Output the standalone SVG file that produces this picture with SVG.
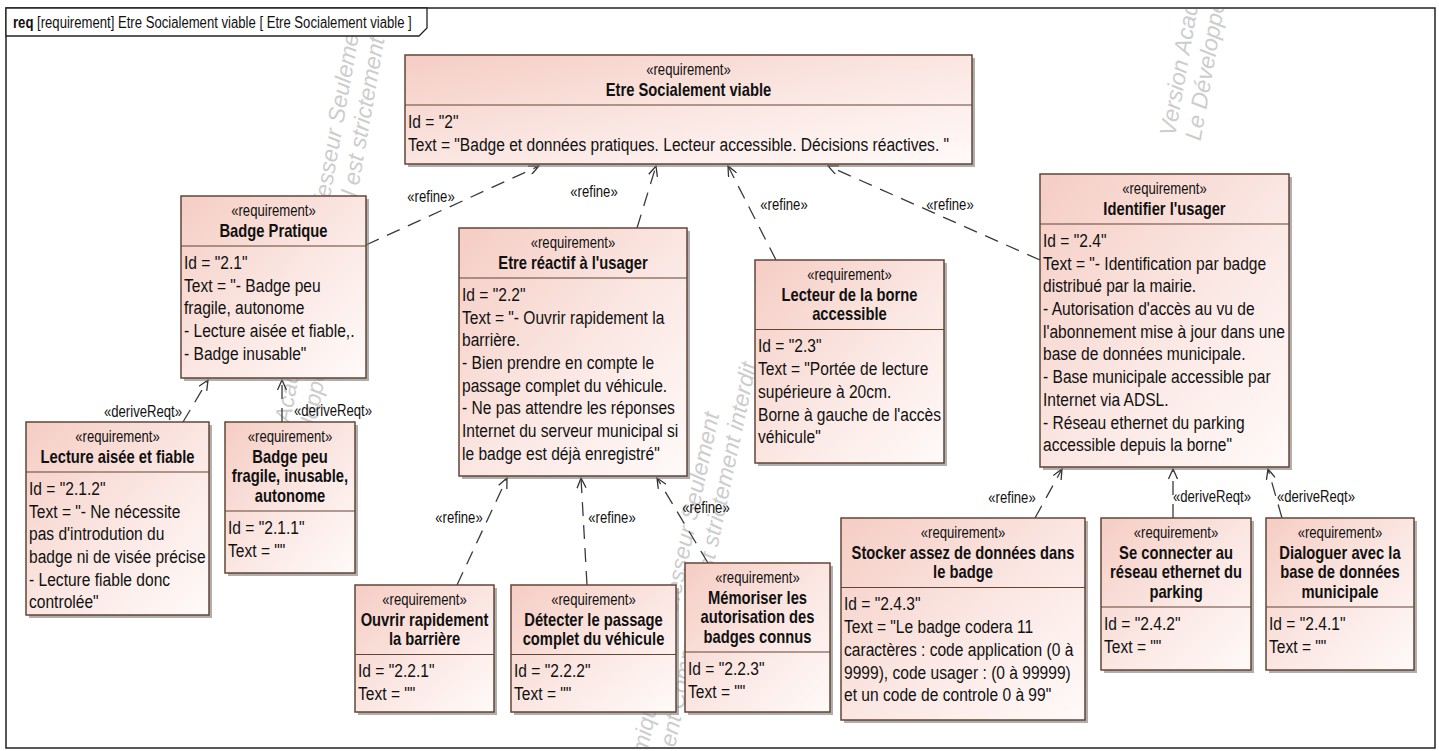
<svg xmlns="http://www.w3.org/2000/svg" width="1439" height="751" viewBox="0 0 1439 751">
  <defs>
    <linearGradient id="rq" x1="0" y1="0" x2="1" y2="1">
      <stop offset="0" stop-color="#f5cdc4"/>
      <stop offset="0.55" stop-color="#fbe8e4"/>
      <stop offset="1" stop-color="#fffaf9"/>
    </linearGradient>
    <marker id="ah" markerWidth="12" markerHeight="10" refX="11" refY="5" orient="auto" markerUnits="userSpaceOnUse">
      <path d="M1,0.5 L11,5 L1,9.5" fill="none" stroke="#333" stroke-width="1.3" stroke-dasharray="none"/>
    </marker>
    <clipPath id="frameClip">
      <rect x="7" y="9" width="1427" height="738"/>
    </clipPath>
    <style>
      text { font-family: "Liberation Sans", Arial, sans-serif; fill: #111; }
      .box { fill: url(#rq); stroke: #634536; stroke-width: 1.5; }
      .sh { fill: #7a7a7a; opacity: 0.6; }
      .dv { stroke: #634536; stroke-width: 1.2; }
      .st { font-size: 16px; text-anchor: middle; }
      .ti { font-size: 18px; font-weight: bold; text-anchor: middle; }
      .bd { font-size: 19px; }
      .lb { font-size: 16px; text-anchor: middle; }
      .cn { fill: none; stroke: #3a3a3a; stroke-width: 1.3; stroke-dasharray: 14 9; marker-end: url(#ah); }
      .wm { font-size: 23px; font-style: italic; fill: #cdcdcd; }
    </style>
  </defs>

  <rect x="0" y="0" width="1439" height="751" fill="#ffffff"/>

  <!-- diagram frame -->
  <rect x="6" y="8" width="1429" height="740" fill="none" stroke="#222" stroke-width="1.5"/>

  <!-- evaluation watermark -->
  <g id="watermark" clip-path="url(#frameClip)">
    <g transform="translate(276,505) rotate(-80)">
      <text class="wm" x="0" y="0">Version Académique pour Professeur Seulement</text>
      <text class="wm" x="0" y="26">Le Développement Commercial est strictement interdit</text>
    </g>
    <g transform="translate(1175,137) rotate(-80)">
      <text class="wm" x="0" y="0">Version Académique pour Professeur Seulement</text>
      <text class="wm" x="0" y="26">Le Développement Commercial est strictement interdit</text>
    </g>
    <g transform="translate(616,900) rotate(-78)">
      <text class="wm" x="0" y="0">Version Académique pour Professeur Seulement</text>
      <text class="wm" x="0" y="26">Le Développement Commercial est strictement interdit</text>
    </g>
  </g>

  <!-- frame name tab -->
  <g id="frame-tab">
    <path d="M6,8 V36 H419 L427,28 V8 Z" fill="#ffffff" stroke="#222" stroke-width="1.3"/>
    <text transform="translate(13,28) scale(0.82,1)" style="font-size:16px"><tspan font-weight="bold">req</tspan> [requirement] Etre Socialement viable [ Etre Socialement viable ]</text>
  </g>

  <!-- connectors -->
  <g id="connectors">
    <line class="cn" x1="366" y1="245" x2="539" y2="166"/>
    <line class="cn" x1="637" y1="228" x2="656" y2="166"/>
    <line class="cn" x1="776" y1="260" x2="728" y2="166"/>
    <line class="cn" x1="1040" y1="260" x2="828" y2="166"/>
    <line class="cn" x1="183" y1="422" x2="208" y2="380"/>
    <line class="cn" x1="282" y1="422" x2="282" y2="380"/>
    <line class="cn" x1="457" y1="585" x2="507" y2="478"/>
    <line class="cn" x1="587" y1="585" x2="581" y2="478"/>
    <line class="cn" x1="708" y1="563" x2="657" y2="478"/>
    <line class="cn" x1="1035" y1="518" x2="1062" y2="469"/>
    <line class="cn" x1="1173" y1="518" x2="1173" y2="469"/>
    <line class="cn" x1="1282" y1="518" x2="1268" y2="469"/>

    <text class="lb" transform="translate(431,202) scale(0.82,1)">«refine»</text>
    <text class="lb" transform="translate(594,197) scale(0.82,1)">«refine»</text>
    <text class="lb" transform="translate(784,210) scale(0.82,1)">«refine»</text>
    <text class="lb" transform="translate(950,210) scale(0.82,1)">«refine»</text>
    <text class="lb" transform="translate(143,417) scale(0.82,1)">«deriveReqt»</text>
    <text class="lb" transform="translate(333,416) scale(0.82,1)">«deriveReqt»</text>
    <text class="lb" transform="translate(459,523) scale(0.82,1)">«refine»</text>
    <text class="lb" transform="translate(612,523) scale(0.82,1)">«refine»</text>
    <text class="lb" transform="translate(706,513) scale(0.82,1)">«refine»</text>
    <text class="lb" transform="translate(1012,503) scale(0.82,1)">«refine»</text>
    <text class="lb" transform="translate(1212,502) scale(0.82,1)">«deriveReqt»</text>
    <text class="lb" transform="translate(1316,502) scale(0.82,1)">«deriveReqt»</text>
  </g>

  <!-- 2 : Etre Socialement viable -->
  <g id="req-2">
    <rect class="sh" x="408" y="58" width="567" height="109"/>
    <rect class="box" x="405" y="55" width="567" height="109"/>
    <line class="dv" x1="405" y1="105" x2="972" y2="105"/>
    <g transform="translate(405,0) scale(0.82,1)">
      <text class="st" x="345.7" y="75">«requirement»</text>
      <text class="ti" x="345.7" y="96">Etre Socialement viable</text>
      <text class="bd" x="3.7" y="128">Id = "2"</text>
      <text class="bd" x="3.7" y="150.7">Text = "Badge et données pratiques. Lecteur accessible. Décisions réactives. "</text>
    </g>
  </g>

  <!-- 2.1 : Badge Pratique -->
  <g id="req-2-1">
    <rect class="sh" x="184" y="199" width="185" height="182"/>
    <rect class="box" x="181" y="196" width="185" height="182"/>
    <line class="dv" x1="181" y1="246" x2="366" y2="246"/>
    <g transform="translate(181,0) scale(0.82,1)">
      <text class="st" x="112.8" y="216">«requirement»</text>
      <text class="ti" x="112.8" y="237">Badge Pratique</text>
      <text class="bd" x="3.7" y="269">Id = "2.1"</text>
      <text class="bd" x="3.7" y="291.7">Text = "- Badge peu</text>
      <text class="bd" x="3.7" y="314.4">fragile, autonome</text>
      <text class="bd" x="3.7" y="337.1">- Lecture aisée et fiable,.</text>
      <text class="bd" x="3.7" y="359.8">- Badge inusable"</text>
    </g>
  </g>

  <!-- 2.2 : Etre réactif à l'usager -->
  <g id="req-2-2">
    <rect class="sh" x="462" y="231" width="228" height="248"/>
    <rect class="box" x="459" y="228" width="228" height="248"/>
    <line class="dv" x1="459" y1="278" x2="687" y2="278"/>
    <g transform="translate(459,0) scale(0.82,1)">
      <text class="st" x="139" y="248">«requirement»</text>
      <text class="ti" x="139" y="269">Etre réactif à l'usager</text>
      <text class="bd" x="3.7" y="301">Id = "2.2"</text>
      <text class="bd" x="3.7" y="323.7">Text = "- Ouvrir rapidement la</text>
      <text class="bd" x="3.7" y="346.4">barrière.</text>
      <text class="bd" x="3.7" y="369.1">- Bien prendre en compte le</text>
      <text class="bd" x="3.7" y="391.8">passage complet du véhicule.</text>
      <text class="bd" x="3.7" y="414.5">- Ne pas attendre les réponses</text>
      <text class="bd" x="3.7" y="437.2">Internet du serveur municipal si</text>
      <text class="bd" x="3.7" y="459.9">le badge est déjà enregistré"</text>
    </g>
  </g>

  <!-- 2.3 : Lecteur de la borne accessible -->
  <g id="req-2-3">
    <rect class="sh" x="758" y="263" width="189" height="203"/>
    <rect class="box" x="755" y="260" width="189" height="203"/>
    <line class="dv" x1="755" y1="329.5" x2="944" y2="329.5"/>
    <g transform="translate(755,0) scale(0.82,1)">
      <text class="st" x="115.2" y="280">«requirement»</text>
      <text class="ti" x="115.2" y="301">Lecteur de la borne</text>
      <text class="ti" x="115.2" y="320.5">accessible</text>
      <text class="bd" x="3.7" y="352.5">Id = "2.3"</text>
      <text class="bd" x="3.7" y="375.2">Text = "Portée de lecture</text>
      <text class="bd" x="3.7" y="397.9">supérieure à 20cm.</text>
      <text class="bd" x="3.7" y="420.6">Borne à gauche de l'accès</text>
      <text class="bd" x="3.7" y="443.3">véhicule"</text>
    </g>
  </g>

  <!-- 2.4 : Identifier l'usager -->
  <g id="req-2-4">
    <rect class="sh" x="1043" y="177" width="249" height="293"/>
    <rect class="box" x="1040" y="174" width="249" height="293"/>
    <line class="dv" x1="1040" y1="224" x2="1289" y2="224"/>
    <g transform="translate(1040,0) scale(0.82,1)">
      <text class="st" x="151.8" y="194">«requirement»</text>
      <text class="ti" x="151.8" y="215">Identifier l'usager</text>
      <text class="bd" x="3.7" y="247">Id = "2.4"</text>
      <text class="bd" x="3.7" y="269.7">Text = "- Identification par badge</text>
      <text class="bd" x="3.7" y="292.4">distribué par la mairie.</text>
      <text class="bd" x="3.7" y="315.1">- Autorisation d'accès au vu de</text>
      <text class="bd" x="3.7" y="337.8">l'abonnement mise à jour dans une</text>
      <text class="bd" x="3.7" y="360.5">base de données municipale.</text>
      <text class="bd" x="3.7" y="383.2">- Base municipale accessible par</text>
      <text class="bd" x="3.7" y="405.9">Internet via ADSL.</text>
      <text class="bd" x="3.7" y="428.6">- Réseau ethernet du parking</text>
      <text class="bd" x="3.7" y="451.3">accessible depuis la borne"</text>
    </g>
  </g>

  <!-- 2.1.2 : Lecture aisée et fiable -->
  <g id="req-2-1-2">
    <rect class="sh" x="29" y="425" width="183" height="193"/>
    <rect class="box" x="26" y="422" width="183" height="193"/>
    <line class="dv" x1="26" y1="472" x2="209" y2="472"/>
    <g transform="translate(26,0) scale(0.82,1)">
      <text class="st" x="111.6" y="442">«requirement»</text>
      <text class="ti" x="111.6" y="463">Lecture aisée et fiable</text>
      <text class="bd" x="3.7" y="495">Id = "2.1.2"</text>
      <text class="bd" x="3.7" y="517.7">Text = "- Ne nécessite</text>
      <text class="bd" x="3.7" y="540.4">pas d'introdution du</text>
      <text class="bd" x="3.7" y="563.1">badge ni de visée précise</text>
      <text class="bd" x="3.7" y="585.8">- Lecture fiable donc</text>
      <text class="bd" x="3.7" y="608.5">controlée"</text>
    </g>
  </g>

  <!-- 2.1.1 : Badge peu fragile, inusable, autonome -->
  <g id="req-2-1-1">
    <rect class="sh" x="228" y="425" width="130" height="151"/>
    <rect class="box" x="225" y="422" width="130" height="151"/>
    <line class="dv" x1="225" y1="511" x2="355" y2="511"/>
    <g transform="translate(225,0) scale(0.82,1)">
      <text class="st" x="79.3" y="442">«requirement»</text>
      <text class="ti" x="79.3" y="463">Badge peu</text>
      <text class="ti" x="79.3" y="482.5">fragile, inusable,</text>
      <text class="ti" x="79.3" y="502">autonome</text>
      <text class="bd" x="3.7" y="534">Id = "2.1.1"</text>
      <text class="bd" x="3.7" y="556.7">Text = ""</text>
    </g>
  </g>

  <!-- 2.2.1 : Ouvrir rapidement la barrière -->
  <g id="req-2-2-1">
    <rect class="sh" x="358" y="588" width="139" height="127"/>
    <rect class="box" x="355" y="585" width="139" height="127"/>
    <line class="dv" x1="355" y1="654.5" x2="494" y2="654.5"/>
    <g transform="translate(355,0) scale(0.82,1)">
      <text class="st" x="84.8" y="605">«requirement»</text>
      <text class="ti" x="84.8" y="626">Ouvrir rapidement</text>
      <text class="ti" x="84.8" y="645.5">la barrière</text>
      <text class="bd" x="3.7" y="677.5">Id = "2.2.1"</text>
      <text class="bd" x="3.7" y="700.2">Text = ""</text>
    </g>
  </g>

  <!-- 2.2.2 : Détecter le passage complet du véhicule -->
  <g id="req-2-2-2">
    <rect class="sh" x="514" y="588" width="165" height="127"/>
    <rect class="box" x="511" y="585" width="165" height="127"/>
    <line class="dv" x1="511" y1="654.5" x2="676" y2="654.5"/>
    <g transform="translate(511,0) scale(0.82,1)">
      <text class="st" x="100.6" y="605">«requirement»</text>
      <text class="ti" x="100.6" y="626">Détecter le passage</text>
      <text class="ti" x="100.6" y="645.5">complet du véhicule</text>
      <text class="bd" x="3.7" y="677.5">Id = "2.2.2"</text>
      <text class="bd" x="3.7" y="700.2">Text = ""</text>
    </g>
  </g>

  <!-- 2.2.3 : Mémoriser les autorisation des badges connus -->
  <g id="req-2-2-3">
    <rect class="sh" x="688" y="566" width="145" height="149"/>
    <rect class="box" x="685" y="563" width="145" height="149"/>
    <line class="dv" x1="685" y1="652" x2="830" y2="652"/>
    <g transform="translate(685,0) scale(0.82,1)">
      <text class="st" x="88.4" y="583">«requirement»</text>
      <text class="ti" x="88.4" y="604">Mémoriser les</text>
      <text class="ti" x="88.4" y="623.5">autorisation des</text>
      <text class="ti" x="88.4" y="643">badges connus</text>
      <text class="bd" x="3.7" y="675">Id = "2.2.3"</text>
      <text class="bd" x="3.7" y="697.7">Text = ""</text>
    </g>
  </g>

  <!-- 2.4.3 : Stocker assez de données dans le badge -->
  <g id="req-2-4-3">
    <rect class="sh" x="844" y="521" width="244" height="202"/>
    <rect class="box" x="841" y="518" width="244" height="202"/>
    <line class="dv" x1="841" y1="587.5" x2="1085" y2="587.5"/>
    <g transform="translate(841,0) scale(0.82,1)">
      <text class="st" x="148.8" y="538">«requirement»</text>
      <text class="ti" x="148.8" y="559">Stocker assez de données dans</text>
      <text class="ti" x="148.8" y="578.5">le badge</text>
      <text class="bd" x="3.7" y="610.5">Id = "2.4.3"</text>
      <text class="bd" x="3.7" y="633.2">Text = "Le badge codera 11</text>
      <text class="bd" x="3.7" y="655.9">caractères : code application (0 à</text>
      <text class="bd" x="3.7" y="678.6">9999), code usager : (0 à 99999)</text>
      <text class="bd" x="3.7" y="701.3">et un code de controle 0 à 99"</text>
    </g>
  </g>

  <!-- 2.4.2 : Se connecter au réseau ethernet du parking -->
  <g id="req-2-4-2">
    <rect class="sh" x="1104" y="521" width="150" height="152"/>
    <rect class="box" x="1101" y="518" width="150" height="152"/>
    <line class="dv" x1="1101" y1="607" x2="1251" y2="607"/>
    <g transform="translate(1101,0) scale(0.82,1)">
      <text class="st" x="91.5" y="538">«requirement»</text>
      <text class="ti" x="91.5" y="559">Se connecter au</text>
      <text class="ti" x="91.5" y="578.5">réseau ethernet du</text>
      <text class="ti" x="91.5" y="598">parking</text>
      <text class="bd" x="3.7" y="630">Id = "2.4.2"</text>
      <text class="bd" x="3.7" y="652.7">Text = ""</text>
    </g>
  </g>

  <!-- 2.4.1 : Dialoguer avec la base de données municipale -->
  <g id="req-2-4-1">
    <rect class="sh" x="1269" y="521" width="148" height="152"/>
    <rect class="box" x="1266" y="518" width="148" height="152"/>
    <line class="dv" x1="1266" y1="607" x2="1414" y2="607"/>
    <g transform="translate(1266,0) scale(0.82,1)">
      <text class="st" x="90.2" y="538">«requirement»</text>
      <text class="ti" x="90.2" y="559">Dialoguer avec la</text>
      <text class="ti" x="90.2" y="578.5">base de données</text>
      <text class="ti" x="90.2" y="598">municipale</text>
      <text class="bd" x="3.7" y="630">Id = "2.4.1"</text>
      <text class="bd" x="3.7" y="652.7">Text = ""</text>
    </g>
  </g>
</svg>
